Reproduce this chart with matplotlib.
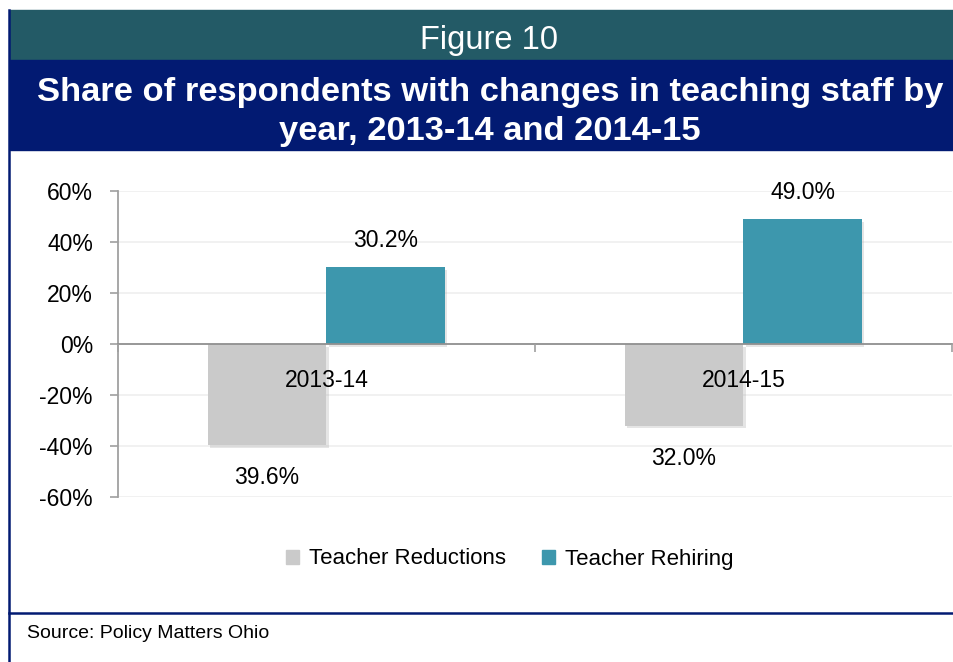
import matplotlib
matplotlib.use('Agg')
import matplotlib.pyplot as plt
from matplotlib.patches import Rectangle, Patch
from matplotlib.lines import Line2D
from matplotlib import patheffects
import numpy as np

years = ['2013-14', '2014-15']
reductions = [39.6, 32.0]
rehiring = [30.2, 49.0]
series_names = ['Teacher Reductions', 'Teacher Rehiring']
yticks = [-60, -40, -20, 0, 20, 40, 60]

GRAY = '#CACACA'
TEAL = '#3D97AD'
HEAD_TEAL = '#235A66'
NAVY = '#021A72'
plt.rcParams['font.family'] = ['Liberation Sans', 'DejaVu Sans']

W, H = 954, 662
fig = plt.figure(figsize=(W / 100, H / 100), dpi=100)

def fx(px):
    return px / W

def fy(py):
    return 1 - py / H

# header bands
fig.patches.append(Rectangle((fx(10), fy(60)), fx(W) - fx(10), fy(10) - fy(60),
                             transform=fig.transFigure, color=HEAD_TEAL, zorder=0))
fig.patches.append(Rectangle((fx(10), fy(150)), fx(W) - fx(10), fy(60) - fy(150),
                             transform=fig.transFigure, color=NAVY, zorder=0))
fig.text(fx(489), fy(41), 'Figure 10', color='white', fontsize=23.5,
         ha='center', va='center')
fig.text(fx(490), fy(112), 'Share of respondents with changes in teaching staff by\nyear, 2013-14 and 2014-15',
         color='white', fontsize=24.8, fontweight='bold', ha='center', va='center',
         linespacing=1.3)

# frame lines
fig.lines.append(Line2D([fx(9), fx(9)], [fy(10), 0], transform=fig.transFigure,
                        color=NAVY, lw=1.8))
fig.lines.append(Line2D([fx(9), 1], [fy(613), fy(613)], transform=fig.transFigure,
                        color=NAVY, lw=1.8))
fig.text(fx(27), fy(634), 'Source: Policy Matters Ohio', fontsize=14,
         ha='left', va='center', color='black')

# chart
ax = fig.add_axes([fx(118), fy(497), fx(952) - fx(118), fy(191) - fy(497)])
x = np.arange(len(years))
bw = 0.285
shadow = [patheffects.SimplePatchShadow(offset=(1.5, -2), shadow_rgbFace='#AAAAAA', alpha=0.3),
          patheffects.Normal()]
b1 = ax.bar(x - bw / 2, [-v for v in reductions], bw, color=GRAY, zorder=2)
b2 = ax.bar(x + bw / 2, rehiring, bw, color=TEAL, zorder=2)
for b in list(b1) + list(b2):
    b.set_path_effects(shadow)

for xi, v in zip(x, reductions):
    ax.annotate(f'{v:.1f}%', (xi - bw / 2, -v), xytext=(0, -23.5), textcoords='offset points',
                ha='center', va='center', fontsize=16.5)
for xi, v in zip(x, rehiring):
    ax.annotate(f'{v:.1f}%', (xi + bw / 2, v), xytext=(0, 19), textcoords='offset points',
                ha='center', va='center', fontsize=16.5)

ax.set_xlim(-0.5, len(years) - 0.5)
ax.set_ylim(-60, 60)
ax.set_yticks(yticks)
ax.set_yticklabels([f'{t}%' for t in yticks])
ax.grid(axis='y', color='#EFEFEF', lw=1.2)
ax.set_axisbelow(True)
ax.xaxis.set_zorder(3)

ax.spines['top'].set_visible(False)
ax.spines['right'].set_visible(False)
ax.spines['left'].set_color('#A0A0A0')
ax.spines['left'].set_linewidth(1.3)
ax.spines['bottom'].set_position(('data', 0))
ax.spines['bottom'].set_color('#909090')
ax.spines['bottom'].set_linewidth(1.3)
ax.spines['bottom'].set_zorder(3)

ax.set_xticks(np.arange(len(years) + 1) - 0.5)
ax.set_xticklabels([])
ax.set_xticks(x, minor=True)
ax.set_xticklabels(years, minor=True)
ax.tick_params(axis='x', which='major', direction='out', length=6, color='#A0A0A0', width=1.2)
ax.tick_params(axis='x', which='minor', length=0, labelsize=16.5, pad=18)
ax.tick_params(axis='y', direction='out', length=6, color='#A0A0A0', width=1.2,
               labelsize=16.5, pad=12)

fig.legend(handles=[Patch(color=GRAY), Patch(color=TEAL)], labels=series_names,
           loc='center', bbox_to_anchor=(fx(510), fy(559)), ncol=2, frameon=False,
           fontsize=16, handlelength=0.6, handleheight=0.6, handletextpad=0.45,
           columnspacing=1.6)

fig.savefig('out.png', dpi=100)
